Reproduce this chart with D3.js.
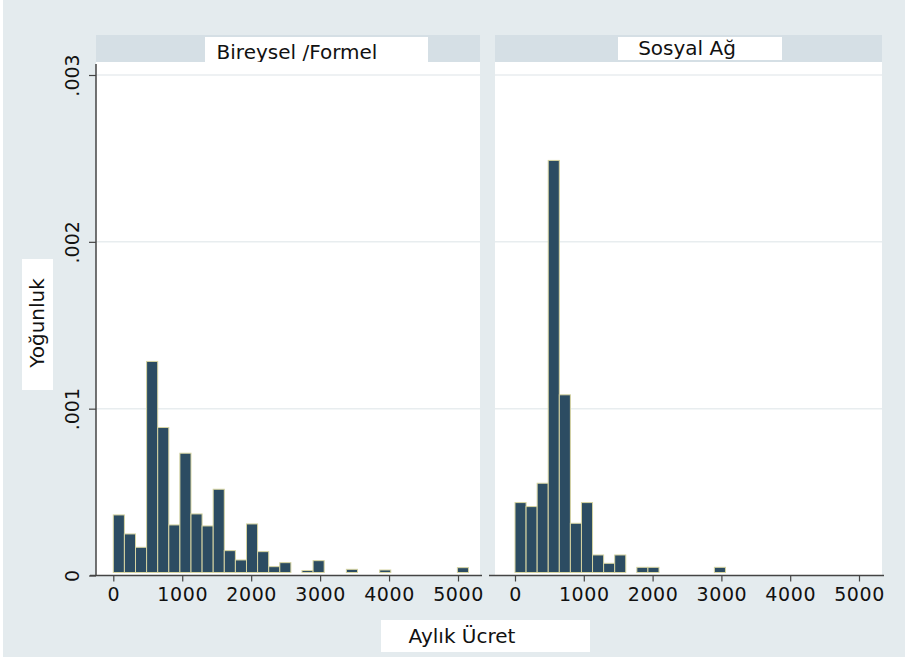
<!DOCTYPE html>
<html>
<head>
<meta charset="utf-8">
<script src="https://cdn.jsdelivr.net/npm/d3@7"></script>
<style>
  body { margin: 0; background: #ffffff; }
  svg text { font-family: 'DejaVu Sans', sans-serif; fill: #111; }
</style>
</head>
<body>
<div id="chartDiv"></div>
<script>
var panelTitles = ['Bireysel /Formel', 'Sosyal Ağ']
var binStart = 0
var binWidth = 161
var densityFormel = [.000363, .000249, .000169, .001283, .000887, .000303, .000733, .000369,
  .000297, .000517, .000149, .000093, .000309, .000143, .000053, .000077,
  .000012, .000030, .000089, 0, .000012, .000037, 0, .000012,
  .000033, 0, 0, .000015, 0, 0, 0, .000047]
var densitySosyal = [.000437, .000413, .000553, .002488, .001083, .000313, .000437, .000123,
  .000073, .000123, .000015, .000049, .000049, 0, 0, 0,
  0, 0, .000049]
var xTicks = [0, 1000, 2000, 3000, 4000, 5000]
var yTicks = [0, .001, .002, .003]
var yTickLabels = ['0', '.001', '.002', '.003']
var xTitle = 'Aylık Ücret'
var yTitle = 'Yoğunluk'

var width = 905, height = 662

var svg = d3.select('#chartDiv').append('svg')
  .attr('width', width)
  .attr('height', height)

svg.append('rect')
  .attr('x', 3).attr('y', 0)
  .attr('width', width - 3).attr('height', 657)
  .attr('fill', '#e4ebee')

var y = d3.scaleLinear().domain([0, .003]).range([575.5, 75])

var panels = [
  {title: panelTitles[0], data: densityFormel, left: 96, right: 480, x0: 113.3, x1: 458, yaxis: true,
    box: [205, 37, 223, 25], textX: 297, textY: 59},
  {title: panelTitles[1], data: densitySosyal, left: 495, right: 882, x0: 515, x1: 859, yaxis: false,
    box: [618, 37, 164, 23], textX: 687, textY: 55}
]

panels.forEach(function(p){
  var x = d3.scaleLinear().domain([0, 5000]).range([p.x0, p.x1])
  var g = svg.append('g')

  // strip
  g.append('rect')
    .attr('x', p.left).attr('y', 35)
    .attr('width', p.right - p.left).attr('height', 27)
    .attr('fill', '#d5dfe5')
  g.append('rect')
    .attr('x', p.box[0]).attr('y', p.box[1])
    .attr('width', p.box[2]).attr('height', p.box[3])
    .attr('fill', '#ffffff')
  g.append('text')
    .attr('x', p.textX).attr('y', p.textY)
    .attr('text-anchor', 'middle')
    .attr('font-size', 20)
    .text(p.title)

  // plot region
  g.append('rect')
    .attr('x', p.left).attr('y', 62)
    .attr('width', p.right - p.left).attr('height', y(0) - 62)
    .attr('fill', '#ffffff')

  g.selectAll('line.grid')
    .data(yTicks.slice(1))
    .enter()
    .append('line')
    .attr('class', 'grid')
    .attr('x1', p.left).attr('x2', p.right)
    .attr('y1', function(d){ return y(d)})
    .attr('y2', function(d){ return y(d)})
    .attr('stroke', '#e8edef')
    .attr('stroke-width', 1.5)

  var bw = x(binWidth) - x(0)
  g.selectAll('rect.bar')
    .data(p.data)
    .enter()
    .append('rect')
    .attr('class', 'bar')
    .attr('x', function(d, i){ return x(binStart + i * binWidth)})
    .attr('y', function(d){ return y(d)})
    .attr('width', bw)
    .attr('height', function(d){ return Math.max(0, y(0) - y(d) - 3)})
    .attr('fill', '#2c4c62')
    .attr('stroke', function(d){ return d > 0 ? '#d6d4a2' : 'none'})
    .attr('stroke-width', 1)

  // x axis
  var xAxis = d3.axisBottom(x).tickValues(xTicks).tickSize(6).tickPadding(6).tickFormat(d3.format('d'))
  var ax = g.append('g')
    .attr('transform', 'translate(0,' + y(0) + ')')
    .call(xAxis)
  ax.select('.domain').remove()
  ax.append('line')
    .attr('x1', p.left - 6).attr('x2', p.right + 2)
    .attr('stroke', '#444').attr('stroke-width', 1.5)
  ax.selectAll('.tick line').attr('stroke', '#444').attr('stroke-width', 1.2)
  ax.selectAll('.tick text')
    .attr('font-family', "'Liberation Sans', Arial, sans-serif")
    .attr('font-size', 19)
    .attr('letter-spacing', 0.6)
    .attr('fill', '#222')

  if (p.yaxis) {
    var yAxis = d3.axisLeft(y).tickValues(yTicks).tickSize(7).tickPadding(0)
      .tickFormat(function(d, i){ return yTickLabels[i]})
    var ay = g.append('g')
      .attr('transform', 'translate(' + p.left + ',0)')
      .call(yAxis)
    ay.select('.domain').remove()
    ay.append('line')
      .attr('y1', 64).attr('y2', y(0))
      .attr('stroke', '#444').attr('stroke-width', 1.5)
    ay.selectAll('.tick line').attr('stroke', '#444').attr('stroke-width', 1.2)
    ay.selectAll('.tick text')
      .attr('transform', 'translate(-24,0) rotate(-90)')
      .attr('x', 0).attr('dy', '0.35em')
      .attr('text-anchor', 'middle')
      .attr('font-family', "'Liberation Sans', Arial, sans-serif")
      .attr('font-size', 19)
      .attr('fill', '#222')
  }
})

// axis titles
svg.append('rect')
  .attr('x', 381).attr('y', 620)
  .attr('width', 209).attr('height', 32)
  .attr('fill', '#ffffff')
svg.append('text')
  .attr('x', 462).attr('y', 643)
  .attr('text-anchor', 'middle')
  .attr('font-size', 20)
  .text(xTitle)

svg.append('rect')
  .attr('x', 22).attr('y', 259)
  .attr('width', 31).attr('height', 131)
  .attr('fill', '#ffffff')
svg.append('text')
  .attr('transform', 'translate(44,323) rotate(-90)')
  .attr('text-anchor', 'middle')
  .attr('font-size', 20)
  .text(yTitle)
</script>
</body>
</html>
